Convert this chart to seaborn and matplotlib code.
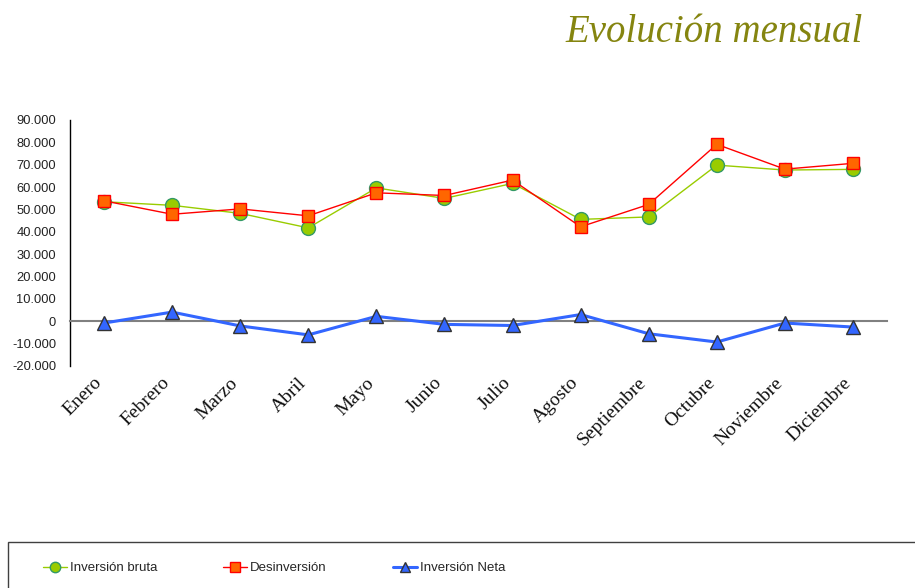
import numpy as np
import pandas as pd
import matplotlib
matplotlib.use("Agg")
import matplotlib.pyplot as plt
import matplotlib.transforms as mtransforms
from matplotlib.patches import Rectangle
from matplotlib import font_manager
import seaborn as sns

# Datos mensuales
meses = ["Enero", "Febrero", "Marzo", "Abril", "Mayo", "Junio", "Julio",
         "Agosto", "Septiembre", "Octubre", "Noviembre", "Diciembre"]
inversion_bruta = [53400, 51800, 48200, 41700, 59600, 54900, 61600,
                   45500, 46600, 69800, 67600, 67900]
desinversion = [53800, 47800, 50200, 47100, 57400, 56200, 63100,
                42200, 52200, 79100, 68000, 70600]
inversion_neta = [-900, 4000, -2200, -6200, 2100, -1500, -2000,
                  2900, -5700, -9400, -900, -2700]
y_ticks = list(range(-20000, 90001, 10000))

df = pd.DataFrame({
    "mes": meses,
    "pos": np.arange(len(meses)),
    "bruta": inversion_bruta,
    "desinv": desinversion,
    "neta": inversion_neta,
})

sns.set_style("white")
plt.rcParams["font.family"] = ["Liberation Sans", "DejaVu Sans"]

names = {f.name for f in font_manager.fontManager.ttflist}
legend_font = "Liberation Sans Narrow" if "Liberation Sans Narrow" in names else "Liberation Sans"
legend_size = 11.5 if legend_font == "Liberation Sans Narrow" else 9.5

fig = plt.figure(figsize=(9.15, 5.88), dpi=100)
ax = fig.add_axes([70 / 915, 1 - 365.7 / 588, (887 - 70) / 915, (365.7 - 120) / 588])

sns.lineplot(data=df, x="pos", y="bruta", ax=ax, color="#99cc00", lw=1.0,
             marker="o", markersize=10, markerfacecolor="#99cc00",
             markeredgecolor="#339966", markeredgewidth=1,
             label="Inversión bruta", zorder=3, legend=False)
sns.lineplot(data=df, x="pos", y="desinv", ax=ax, color="#ff0000", lw=1.0,
             marker="s", markersize=9, markerfacecolor="#ff6600",
             markeredgecolor="#ff0000", markeredgewidth=1,
             label="Desinversión", zorder=4, legend=False)
sns.lineplot(data=df, x="pos", y="neta", ax=ax, color="#3366ff", lw=2.2,
             marker="^", markersize=10, markerfacecolor="#3366ff",
             markeredgecolor="#333333", markeredgewidth=1,
             label="Inversión Neta", zorder=5, legend=False)

handles, labels = ax.get_legend_handles_labels()
if ax.get_legend() is not None:
    ax.get_legend().remove()

ax.set_xlim(-0.5, len(meses) - 0.5)
ax.set_ylim(-20000, 90000)
ax.set_xlabel("")
ax.set_ylabel("")

# ejes
for s in ["top", "right"]:
    ax.spines[s].set_visible(False)
ax.spines["bottom"].set_position(("data", 0))
ax.spines["bottom"].set_color("#808080")
ax.spines["bottom"].set_linewidth(1.5)
ax.spines["left"].set_color("#000000")
ax.spines["left"].set_linewidth(1.0)

ax.set_xticks(np.arange(-0.5, len(meses), 1))
ax.tick_params(axis="x", direction="out", length=5, width=1, color="#808080",
               labelbottom=False)
ax.set_yticks(y_ticks)
ax.set_yticklabels([f"{v:,.0f}".replace(",", ".") for v in y_ticks])
ax.tick_params(axis="y", direction="out", length=4, width=1, color="#000000",
               labelsize=9.3, labelcolor="#222222", pad=6)

# etiquetas de meses
trans = mtransforms.blended_transform_factory(ax.transData, ax.transAxes)
for i, m in enumerate(meses):
    ax.text(i + 0.02, -0.035, m, rotation=45, ha="right", va="top",
            transform=trans, fontfamily="Liberation Serif", fontsize=14,
            color="#111111")

# titulo
fig.text(863 / 915, 1 - 42 / 588, "Evolución mensual", ha="right", va="baseline",
         fontfamily="Liberation Serif", style="italic", fontsize=28,
         color="#858510")

# leyenda
fig.patches.append(Rectangle((8 / 915, -0.05), 1.0, 0.05 + (588 - 541.5) / 588,
                             transform=fig.transFigure, fill=False,
                             edgecolor="#404040", lw=1))
fig.legend(handles, labels, loc="center left",
           bbox_to_anchor=(31 / 915, 1 - 568 / 588), ncol=3, frameon=False,
           handlelength=1.8, handletextpad=0.25, columnspacing=5.0,
           markerscale=0.75, prop={"family": legend_font, "size": legend_size})

fig.savefig("out.png", dpi=100)
